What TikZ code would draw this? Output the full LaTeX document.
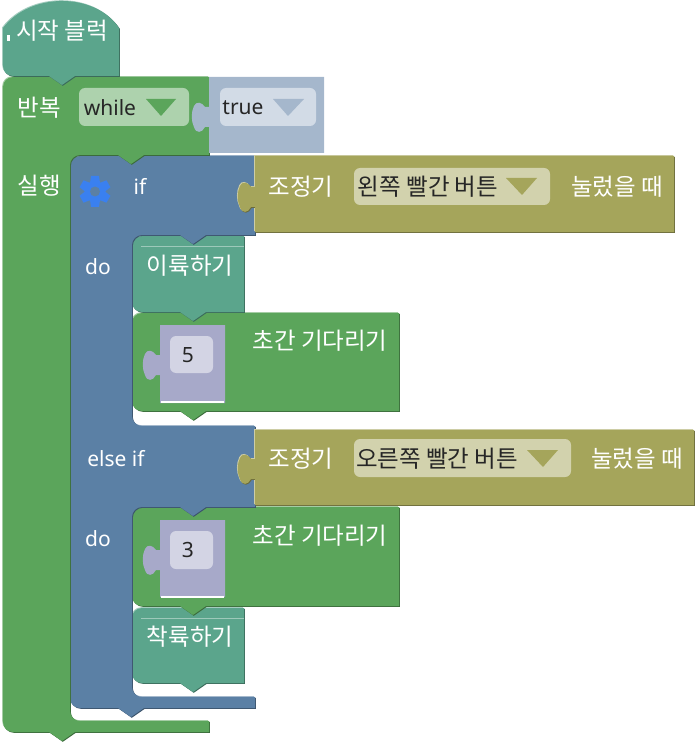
\documentclass[tikz,border=0pt]{standalone}
\usepackage{fontspec}
\usetikzlibrary{calc}
\setmainfont{Noto Sans}
\newfontfamily\kofont{Noto Sans CJK KR}
\definecolor{tealblk}{HTML}{5BA58C}
\definecolor{greenblk}{HTML}{5BA55B}
\definecolor{blueblk}{HTML}{5B80A5}
\definecolor{oliveblk}{HTML}{A5A55B}
\definecolor{logicblk}{HTML}{A5B7CC}
\definecolor{mathblk}{HTML}{A7A9C9}
\definecolor{gearblue}{HTML}{3A80F0}
\newcommand{\notch}[2]{-- (#1+13,#2) -- ++(-13,9) -- ++(-13,-9)}
\newcommand{\rnd}[3]{.. controls ($(#1)!.55!(#2)$) and ($(#3)!.55!(#2)$) .. (#3)}
\newcommand{\lefttab}[2]{-- (#1,#2+25) -- (#1-4,#2+25) .. controls (#1-7,#2+31) and (#1-13,#2+32) .. (#1-15,#2+25) .. controls (#1-18,#2+19) and (#1-18,#2+10) .. (#1-15,#2+4) .. controls (#1-13,#2-1) and (#1-7,#2) .. (#1-4,#2+5) -- (#1,#2+5)}
\tikzset{
  block/.style={fill=#1,
    preaction={fill=#1!55!white, transform canvas={shift={(-0.8pt,0.8pt)}}},
    preaction={fill=#1!65!black, transform canvas={shift={(0.8pt,-0.8pt)}}}},
  flat/.style={fill=#1},
  field/.style={fill=#1, rounded corners=6pt},
  lbl/.style={text=white, inner sep=0pt, font=\fontsize{21}{24}\selectfont},
  kolbl/.style={text=white, inner sep=0pt, font=\kofont\fontsize{23.5}{26}\selectfont},
  val/.style={text=black!85, inner sep=0pt, font=\fontsize{21}{24}\selectfont},
  koval/.style={text=black!85, inner sep=0pt, font=\kofont\fontsize{23.5}{26}\selectfont}
}
\begin{document}
\begin{tikzpicture}[x=1pt, y=-1pt]
\useasboundingbox (0,0) rectangle (695,743);
% statements inside the inner slots
\path[block=greenblk] (132,323) \rnd{132,323}{132,313}{142,313} -- (399,313) -- (399,411) \notch{193}{411} -- (142,411) \rnd{142,411}{132,411}{132,401} -- cycle;
\path[block=tealblk] (132,246) \rnd{132,246}{132,236}{142,236} -- (244,236) -- (244,312) \notch{193}{312} -- (142,312) \rnd{142,312}{132,312}{132,302} -- cycle;
\draw[tealblk!60!white, very thin] (141,246) -- (244,246);
\path[block=tealblk] (132,618) \rnd{132,618}{132,608}{142,608} -- (244,608) -- (244,683) \notch{193}{683} -- (142,683) \rnd{142,683}{132,683}{132,673} -- cycle;
\draw[tealblk!60!white, very thin] (141,618) -- (244,618);
\path[block=greenblk] (132,517) \rnd{132,517}{132,507}{142,507} -- (399,507) -- (399,606) \notch{193}{606} -- (142,606) \rnd{142,606}{132,606}{132,596} -- cycle;
% if block
\path[block=blueblk] (70,166) \rnd{70,166}{70,156}{80,156} -- (255,156) -- (255,235) \notch{193}{235} -- (142,235) \rnd{142,235}{132,235}{132,245} -- (132,416) \rnd{132,416}{132,426}{142,426} -- (255,426) -- (255,507) \notch{193}{507} -- (142,507) \rnd{142,507}{132,507}{132,517} -- (132,687) \rnd{132,687}{132,697}{142,697} -- (255,697) -- (255,708) \notch{131}{708} -- (80,708) \rnd{80,708}{70,708}{70,698} -- cycle;
% while block
\path[block=greenblk] (3,87) \rnd{3,87}{3,77}{13,77} -- (209,77) -- (209,155) \notch{131}{155} -- (80,155) \rnd{80,155}{70,155}{70,165} -- (70,711) \rnd{70,711}{70,721}{80,721} -- (209,721) -- (209,732) \notch{62}{732} -- (13,732) \rnd{13,732}{3,732}{3,722} -- cycle;
% start block
\path[block=tealblk] (3,28) .. controls (30,-8) and (95,-8) .. (119,28) -- (119,76) \notch{62}{76} -- (13,76) \rnd{13,76}{3,76}{3,66} -- cycle;
\fill[white] (7,35) rectangle (10,41);
% plugged values
\path[flat=logicblk] (209,77) -- (324,77) -- (324,153) -- (209,153) \lefttab{209}{102} -- cycle;
\path[block=oliveblk] (255,156) -- (674,156) -- (674,232) -- (255,232) \lefttab{255}{182} -- cycle;
\path[block=oliveblk] (255,430) -- (694,430) -- (694,505) -- (255,505) \lefttab{255}{454} -- cycle;
\path[flat=mathblk] (160,325) -- (225,325) -- (225,403) -- (160,403) \lefttab{160}{350} -- cycle;
\path[flat=mathblk] (160,520) -- (225,520) -- (225,597) -- (160,597) \lefttab{160}{545} -- cycle;
\fill[white] (161,401) rectangle (224,403);
\fill[white] (161,596) rectangle (224,598);
% fields
\path[field=greenblk!50!white] (79,88) rectangle (189,126);
\path[field=logicblk!50!white] (220,88) rectangle (316,126);
\path[field=oliveblk!50!white] (354,168) rectangle (550,205);
\path[field=oliveblk!50!white] (354,439) rectangle (571,477);
\path[field=mathblk!50!white] (170,336) rectangle (213,373);
\path[field=mathblk!50!white] (170,531) rectangle (213,569);
\fill[greenblk] (146,99) -- (176,99) -- (161,116) -- cycle;
\fill[logicblk] (273,99) -- (304,99) -- (288,116) -- cycle;
\fill[oliveblk] (506,178) -- (537,178) -- (522,195) -- cycle;
\fill[oliveblk] (527,450) -- (558,450) -- (543,467) -- cycle;
% gear
\foreach \ang in {0,60,...,300} \fill[gearblue, rotate around={\ang:(95,191.5)}] (91,176) -- (99,176) -- (101,190) -- (89,190) -- cycle;
\fill[gearblue] (95,191.5) circle (10.5);
\fill[blueblk] (95,191.5) circle (5);
% labels
\node[kolbl] (startlbl) at (62,31) {시작 블럭};
\node[kolbl] (repeatlbl) at (39,108) {반복};
\node[val] (whilelbl) at (110,108) {while};
\node[val] (truelbl) at (243,108) {true};
\node[kolbl] (execlbl) at (39,186) {실행};
\node[lbl] (iflbl) at (140,186) {if};
\node[kolbl] (ctrlA) at (301,187) {조정기};
\node[koval] (leftbtn) at (428,187) {왼쪽 빨간 버튼};
\node[kolbl] (pressA) at (617,187) {눌렀을 때};
\node[lbl] (doA) at (98,267) {do};
\node[kolbl] (takeoff) at (190,266) {이륙하기};
\node[val] (five) at (188,355) {5};
\node[kolbl] (waitA) at (320,341) {초간 기다리기};
\node[lbl] (elseif) at (116,459) {else if};
\node[kolbl] (ctrlB) at (301,459) {조정기};
\node[koval] (rightbtn) at (437,459) {오른쪽 빨간 버튼};
\node[kolbl] (pressB) at (637,459) {눌렀을 때};
\node[lbl] (doB) at (98,539) {do};
\node[val] (three) at (188,550) {3};
\node[kolbl] (waitB) at (320,536) {초간 기다리기};
\node[kolbl] (landing) at (190,637) {착륙하기};
\end{tikzpicture}
\end{document}
